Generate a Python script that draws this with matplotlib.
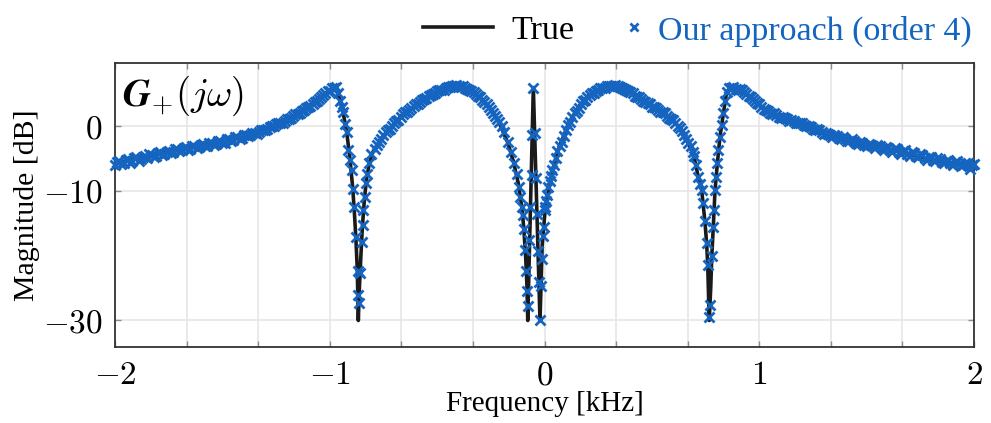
import matplotlib
matplotlib.use('Agg')
import matplotlib.pyplot as plt
import numpy as np

# ---- data ----
# true response (black line)
true_freq = [-2.0, -1.9, -1.8, -1.7, -1.6, -1.5, -1.4, -1.3, -1.25, -1.2, -1.15, -1.1, -1.05, -1.0,
             -0.98, -0.965, -0.952, -0.937, -0.921, -0.906, -0.893, -0.885, -0.878, -0.872, -0.867,
             -0.862, -0.855, -0.848, -0.838, -0.828, -0.815, -0.80, -0.75, -0.70, -0.665, -0.60,
             -0.564, -0.50, -0.45, -0.417, -0.38, -0.332, -0.30, -0.254, -0.22, -0.192, -0.17,
             -0.145, -0.122, -0.106, -0.097, -0.088, -0.082, -0.078, -0.052, -0.021, -0.016,
             -0.011, -0.005, 0.002, 0.013, 0.026, 0.041, 0.06, 0.08, 0.10, 0.12, 0.14, 0.165,
             0.205, 0.243, 0.28, 0.32, 0.36, 0.40, 0.429, 0.47, 0.50, 0.553, 0.60, 0.631, 0.66,
             0.685, 0.70, 0.716, 0.732, 0.747, 0.755, 0.760, 0.767, 0.774, 0.779, 0.786, 0.794,
             0.805, 0.817, 0.833, 0.848, 0.865, 0.90, 0.95, 1.0, 1.05, 1.1, 1.174, 1.25, 1.329,
             1.4, 1.484, 1.55, 1.64, 1.7, 1.795, 1.85, 1.9, 1.966, 2.0]
true_db = [-5.7, -5.0, -4.3, -3.6, -3.0, -2.4, -1.6, -0.6, 0.2, 1.1, 2.0, 3.1, 4.4, 5.6,
           6.0, 5.8, 4.0, 2.0, -0.9, -5.0, -9.5, -13.5, -17.5, -22.0, -30.0,
           -25.0, -20.0, -15.5, -11.0, -8.0, -5.6, -4.0, -1.4, 0.4, 1.7, 3.3,
           4.3, 5.4, 6.0, 6.3, 6.1, 5.3, 4.4, 2.7, 1.2, -0.9, -2.6,
           -5.4, -8.8, -12.4, -15.5, -20.0, -24.5, -30.0, 6.0, -30.0, -24.5,
           -18.5, -16.0, -13.4, -10.9, -8.8, -6.3, -4.0, -2.2, -0.6, 0.9, 2.0, 3.3,
           4.8, 5.5, 6.1, 6.3, 6.0, 5.2, 4.6, 3.7, 3.2, 2.2, 0.9, -0.4, -2.0,
           -3.7, -5.3, -7.8, -9.9, -14.7, -18.1, -21.4, -30.0, -25.0, -20.1, -15.5, -9.9,
           -5.7, -1.6, 2.0, 5.3, 6.0, 5.7, 4.7, 3.3, 2.0, 1.4, 0.7, -0.4, -1.4,
           -2.0, -2.7, -3.2, -3.8, -4.3, -5.1, -5.5, -5.7, -6.0, -6.2]

# identified model, order 4 (blue crosses), by segment
tail_left_f = [-2.00, -1.98, -1.96, -1.94, -1.92, -1.90, -1.88, -1.86, -1.84, -1.82, -1.80, -1.78, -1.76,
               -1.74, -1.72, -1.70, -1.68, -1.66, -1.64, -1.62, -1.60, -1.58, -1.56, -1.54, -1.52, -1.50,
               -1.48, -1.46, -1.44, -1.42, -1.40, -1.38, -1.36, -1.34, -1.32, -1.30, -1.28, -1.26, -1.24,
               -1.22, -1.20, -1.18, -1.16, -1.14, -1.12, -1.10, -1.08, -1.06, -1.04, -1.02, -1.00, -0.98]
tail_left_db = [-5.9, -5.4, -5.7, -5.1, -5.3, -4.8, -5.1, -4.6, -4.3, -4.7, -4.1, -4.4, -3.9,
                -4.1, -3.5, -3.8, -3.3, -3.6, -3.0, -3.3, -2.8, -3.1, -2.6, -2.8, -2.3, -2.6,
                -2.0, -2.2, -1.7, -1.9, -1.4, -1.5, -1.0, -1.1, -0.6, -0.5, -0.1, 0.1, 0.5,
                0.6, 1.2, 1.3, 1.9, 2.1, 2.6, 3.0, 3.4, 4.0, 4.5, 5.1, 5.5, 6.0]
tail_left_mid_f = [-1.99, -1.97, -1.95, -1.93, -1.91, -1.89, -1.87, -1.85, -1.83, -1.81,
                   -1.79, -1.77, -1.75, -1.73, -1.71, -1.69, -1.67, -1.65, -1.63, -1.61,
                   -1.59, -1.57, -1.55, -1.53, -1.51, -1.49, -1.47, -1.45, -1.43, -1.41,
                   -1.39, -1.37, -1.35, -1.33, -1.31, -1.29, -1.27, -1.25, -1.23, -1.21,
                   -1.19, -1.17, -1.15, -1.13, -1.11, -1.09, -1.07, -1.05, -1.03, -1.01, -0.99]
tail_left_mid_db = [-5.5, -5.8, -5.2, -5.6, -4.9, -5.3, -4.7, -4.9, -4.4, -4.6,
                    -4.0, -4.3, -3.8, -4.0, -3.5, -3.7, -3.2, -3.5, -3.0, -3.2,
                    -2.7, -3.0, -2.5, -2.7, -2.2, -2.5, -2.0, -2.1, -1.6, -1.8,
                    -1.3, -1.4, -1.0, -0.9, -0.5, -0.4, 0.0, 0.3, 0.6, 0.9,
                    1.1, 1.6, 1.9, 2.4, 2.8, 3.2, 3.8, 4.2, 4.8, 5.4, 5.9]

dip_left_f = [-0.970, -0.960, -0.952, -0.944, -0.937, -0.929, -0.921, -0.914, -0.906, -0.898,
              -0.893, -0.887, -0.878, -0.870, -0.867, -0.865, -0.859, -0.851, -0.846, -0.843,
              -0.836, -0.831, -0.825, -0.816, -0.806]
dip_left_db = [6.1, 5.2, 4.0, 3.0, 2.2, 0.4, -0.9, -3.7, -5.2, -6.8,
               -9.6, -12.4, -17.1, -22.4, -26.0, -27.3, -22.7, -17.8, -15.3, -12.9,
               -10.9, -8.8, -7.3, -5.7, -4.2]

valley_left_f = [-0.79, -0.77, -0.75, -0.73, -0.71, -0.69, -0.67, -0.65, -0.63, -0.61,
                 -0.59, -0.57, -0.55, -0.53, -0.51, -0.49, -0.47, -0.45, -0.43, -0.41,
                 -0.39, -0.37, -0.35, -0.33, -0.31, -0.29, -0.27, -0.25, -0.23, -0.21,
                 -0.19, -0.17, -0.155, -0.14, -0.128, -0.118, -0.112, -0.106, -0.099, -0.097,
                 -0.091, -0.085, -0.081, -0.079]
valley_left_db = [-3.5, -2.4, -1.3, -0.6, 0.0, 0.9, 1.4, 2.2, 2.6, 3.2,
                  3.5, 4.1, 4.4, 4.9, 5.1, 5.6, 5.7, 6.1, 6.2, 6.4,
                  6.1, 6.0, 5.6, 5.3, 4.7, 4.1, 3.4, 2.6, 1.6, 0.7,
                  -0.8, -2.4, -3.9, -5.6, -7.4, -9.3, -10.9, -12.4, -13.7, -15.8,
                  -19.1, -22.4, -25.5, -27.8]
valley_left_mid_f = [-0.78, -0.76, -0.74, -0.72, -0.70, -0.68, -0.66, -0.64, -0.62, -0.60,
                     -0.58, -0.56, -0.54, -0.52, -0.50, -0.48, -0.46, -0.44, -0.42, -0.40,
                     -0.38, -0.36, -0.34, -0.32, -0.30, -0.28, -0.26, -0.24, -0.22, -0.20]
valley_left_mid_db = [-2.8, -1.9, -0.9, -0.4, 0.5, 1.0, 1.9, 2.3, 2.9, 3.4,
                      3.8, 4.3, 4.7, 5.0, 5.4, 5.6, 6.0, 6.1, 6.3, 6.2,
                      6.2, 5.8, 5.5, 5.0, 4.5, 3.8, 3.0, 2.1, 1.2, 0.0]

center_f = [-0.070, -0.066, -0.060, -0.056, -0.052, -0.046, -0.040, -0.035, -0.030, -0.026,
            -0.021, -0.016, -0.012, -0.008, -0.004, 0.000, 0.004, 0.008, 0.012, 0.018,
            0.024, 0.030, 0.036, 0.044, 0.052]
center_db = [-17.5, -12.4, -7.5, -1.4, 5.9, -1.0, -7.9, -13.5, -19.3, -24.0,
             -30.0, -24.7, -20.5, -17.0, -15.5, -13.0, -12.4, -11.5, -10.6, -9.4,
             -8.4, -7.6, -6.8, -5.9, -4.9]

valley_right_f = [0.06, 0.08, 0.10, 0.12, 0.14, 0.16, 0.18, 0.20, 0.22, 0.24,
                  0.26, 0.28, 0.30, 0.32, 0.34, 0.36, 0.38, 0.40, 0.42, 0.44,
                  0.46, 0.48, 0.50, 0.52, 0.54, 0.56, 0.58, 0.60, 0.62, 0.64,
                  0.66, 0.68, 0.695, 0.705]
valley_right_db = [-3.8, -2.4, -0.5, 0.7, 2.1, 2.9, 3.9, 4.5, 5.1, 5.4,
                   5.9, 6.0, 6.3, 6.2, 6.3, 5.9, 5.6, 5.3, 4.7, 4.5,
                   3.9, 3.6, 3.0, 2.9, 2.3, 2.0, 1.3, 1.0, 0.1, -0.7,
                   -1.9, -3.1, -4.6, -6.0]
valley_right_mid_f = [0.07, 0.09, 0.11, 0.13, 0.15, 0.17, 0.19, 0.21, 0.23, 0.25,
                      0.27, 0.29, 0.31, 0.33, 0.35, 0.37, 0.39, 0.41, 0.43, 0.45,
                      0.47, 0.49, 0.51, 0.53, 0.55, 0.57, 0.59, 0.61, 0.63, 0.65,
                      0.67, 0.69]
valley_right_mid_db = [-3.0, -1.5, 0.2, 1.4, 2.4, 3.5, 4.1, 4.9, 5.2, 5.7,
                       5.9, 6.2, 6.2, 6.4, 6.1, 5.8, 5.4, 5.1, 4.5, 4.2,
                       3.7, 3.4, 3.0, 2.6, 2.3, 1.6, 1.2, 0.5, -0.3, -1.3,
                       -2.5, -4.0]

dip_right_f = [0.716, 0.724, 0.732, 0.739, 0.747, 0.755, 0.760, 0.767, 0.771, 0.779,
               0.786, 0.789, 0.794, 0.799, 0.805, 0.809, 0.817, 0.825, 0.833, 0.840, 0.848]
dip_right_db = [-7.8, -8.9, -9.9, -11.9, -14.7, -18.1, -21.4, -29.4, -27.6, -20.1,
                -15.5, -12.9, -9.9, -7.8, -5.7, -3.7, -1.6, 0.2, 2.0, 4.0, 5.3]

tail_right_f = [0.86, 0.88, 0.90, 0.92, 0.94, 0.96, 0.98, 1.00,
                1.02, 1.04, 1.06, 1.08, 1.10, 1.12, 1.14, 1.16, 1.18, 1.20,
                1.22, 1.24, 1.26, 1.28, 1.30, 1.32, 1.34, 1.36, 1.38, 1.40,
                1.42, 1.44, 1.46, 1.48, 1.50, 1.52, 1.54, 1.56, 1.58, 1.60,
                1.62, 1.64, 1.66, 1.68, 1.70, 1.72, 1.74, 1.76, 1.78, 1.80,
                1.82, 1.84, 1.86, 1.88, 1.90, 1.92, 1.94, 1.96, 1.98, 2.00]
tail_right_db = [5.9, 6.1, 5.7, 5.6, 5.0, 4.6, 3.9, 3.5,
                 2.7, 2.4, 1.9, 1.8, 1.3, 1.3, 0.9, 0.9, 0.5, 0.5,
                 0.0, -0.1, -0.6, -0.6, -1.1, -1.2, -1.6, -1.5, -2.0, -1.9,
                 -2.3, -2.2, -2.7, -2.5, -3.0, -2.8, -3.3, -3.0, -3.6, -3.3,
                 -3.9, -3.5, -4.2, -3.6, -4.5, -4.1, -4.8, -4.4, -5.2, -4.8,
                 -5.4, -5.0, -5.7, -5.2, -5.9, -5.4, -6.1, -5.6, -6.6, -5.8]
tail_right_mid_f = [0.87, 0.89, 0.91, 0.93, 0.95, 0.97, 0.99,
                    1.01, 1.03, 1.05, 1.07, 1.09, 1.11, 1.13, 1.15, 1.17, 1.19,
                    1.21, 1.23, 1.25, 1.27, 1.29, 1.31, 1.33, 1.35, 1.37, 1.39,
                    1.41, 1.43, 1.45, 1.47, 1.49, 1.51, 1.53, 1.55, 1.57, 1.59,
                    1.61, 1.63, 1.65, 1.67, 1.69, 1.71, 1.73, 1.75, 1.77, 1.79,
                    1.81, 1.83, 1.85, 1.87, 1.89, 1.91, 1.93, 1.95, 1.97, 1.99]
tail_right_mid_db = [6.0, 5.8, 5.8, 5.3, 4.7, 4.3, 3.6,
                     3.0, 2.6, 2.1, 2.0, 1.5, 1.5, 1.1, 1.0, 0.6, 0.6,
                     0.2, 0.1, -0.4, -0.4, -0.9, -1.0, -1.4, -1.4, -1.8, -1.7,
                     -2.2, -2.0, -2.5, -2.4, -2.8, -2.7, -3.1, -2.9, -3.4, -3.2,
                     -3.7, -3.4, -4.0, -3.8, -4.3, -4.0, -4.6, -4.3, -4.9, -4.7,
                     -5.2, -4.9, -5.5, -5.3, -5.7, -5.5, -5.8, -5.9, -5.6, -6.0]

approach_freq = (tail_left_f + tail_left_mid_f + dip_left_f + valley_left_f
                 + valley_left_mid_f + center_f + valley_right_f + valley_right_mid_f
                 + dip_right_f + tail_right_f + tail_right_mid_f)
approach_db = (tail_left_db + tail_left_mid_db + dip_left_db + valley_left_db
               + valley_left_mid_db + center_db + valley_right_db + valley_right_mid_db
               + dip_right_db + tail_right_db + tail_right_mid_db)

xtick_labels = {-2: r'$-2$', -1: r'$-1$', 0: r'$0$', 1: r'$1$', 2: r'$2$'}
yticks = [-30, -10, 0]
ytick_labels = [r'$-30$', r'$-10$', r'$0$']

blue = '#1565c0'

# ---- plot ----
plt.rcParams['font.family'] = ['Liberation Serif', 'DejaVu Serif']
plt.rcParams['mathtext.fontset'] = 'cm'

fig = plt.figure(figsize=(9.91, 4.23), dpi=100)
ax = fig.add_axes([115 / 991, 1 - 347 / 423, (974 - 115) / 991, (347 - 63) / 423])

h_true, = ax.plot(true_freq, true_db, color='#1a1a1a', lw=2.6, zorder=2)
h_app, = ax.plot(approach_freq, approach_db, 'x', color=blue, ms=7, mew=2.0,
                 zorder=3, clip_on=False)

ax.set_xlim(-2, 2)
ax.set_ylim(-34.1, 9.8)

xpos = np.arange(-6, 7) / 3
ax.set_xticks(xpos)
ax.set_xticklabels([xtick_labels.get(int(round(v)), '') if abs(v - round(v)) < 1e-9 else ''
                    for v in xpos])
ax.set_yticks(yticks)
ax.set_yticklabels(ytick_labels)

ax.grid(True, color='#e6e6e6', lw=1.2)
ax.set_axisbelow(True)
ax.tick_params(direction='in', length=4.5, width=1.0, color='#8c8c8c',
               top=True, right=True, labelsize=24)
ax.tick_params(axis='x', pad=10)
ax.tick_params(axis='y', pad=9)
for s in ax.spines.values():
    s.set_linewidth(1.3)
    s.set_color('#333333')

ax.set_xlabel('Frequency [kHz]', fontsize=21, labelpad=0)
ax.set_ylabel('Magnitude [dB]', fontsize=21.5, labelpad=2)

ax.text(0.008, 0.885, r'$\mathbfit{G}_{+}(j\omega)$', transform=ax.transAxes,
        fontsize=28, va='center', ha='left')

leg1 = ax.legend([h_true], ['True'], loc='center left',
                 bbox_to_anchor=(423 / 991, 1 - 31 / 423), bbox_transform=fig.transFigure,
                 frameon=False, fontsize=24.5, handlelength=2.05, handletextpad=0.55,
                 borderpad=0, borderaxespad=0)
ax.add_artist(leg1)
leg2 = ax.legend([h_app], ['Our approach (order 4)'], loc='center right',
                 bbox_to_anchor=(972 / 991, 1 - 31 / 423), bbox_transform=fig.transFigure,
                 frameon=False, fontsize=24.5, handlelength=0.5, handletextpad=0.45,
                 borderpad=0, borderaxespad=0, markerscale=0.85)
for t in leg2.get_texts():
    t.set_color(blue)

fig.savefig('out.png', dpi=100)
